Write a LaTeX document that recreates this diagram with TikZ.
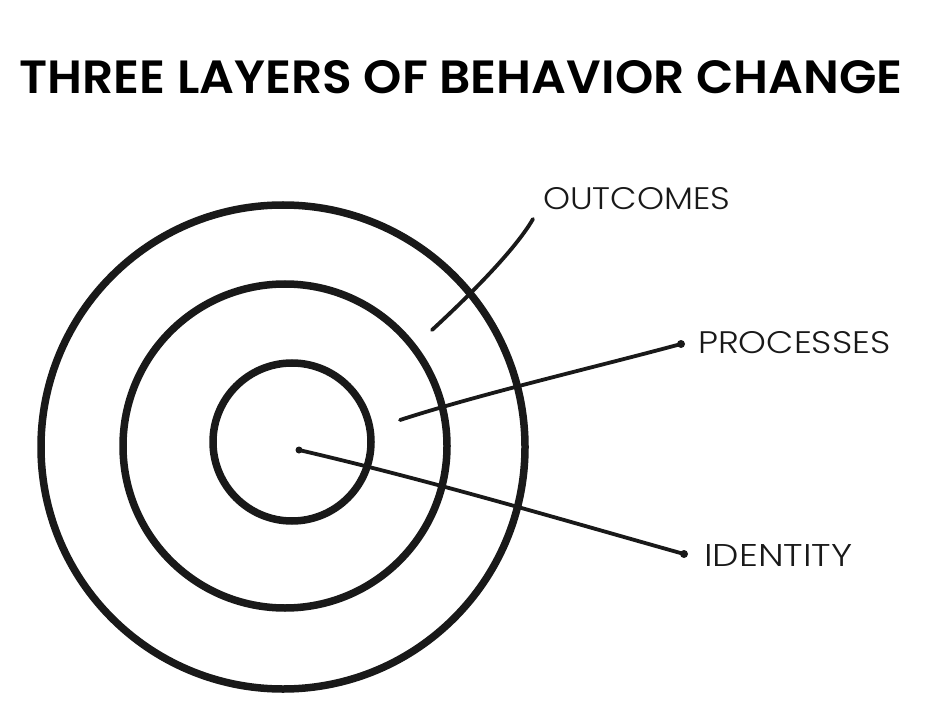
\documentclass[tikz,border=0pt]{standalone}
\usepackage{fontspec}
\setmainfont{Poppins}
\newfontfamily\titlefont{Poppins}[UprightFont=* SemiBold]
\newfontfamily\labelfont{Poppins}[UprightFont=* Light]
\begin{document}
\begin{tikzpicture}[x=1pt,y=-1pt,
  ring/.style={draw=black!90, line width=7.5pt, circle, inner sep=0pt},
  leader/.style={draw=black!90, line width=3.8pt, line cap=round},
  blob/.style={circle, fill=black!90, inner sep=0pt, minimum size=8pt},
  lbl/.style={anchor=west, inner sep=0pt, text=black!90}]
\useasboundingbox[fill=white] (0,0) rectangle (944,708);
\node (title) at (461,77) {\resizebox{883pt}{33pt}{\titlefont THREE LAYERS OF BEHAVIOR CHANGE}};
\node[ring, minimum size=484pt] (outer) at (283,447) {};
\node[ring, minimum size=324pt] (middle) at (285,446) {};
\node[ring, minimum size=158pt] (inner) at (292,442) {};
% leader ends
\coordinate (o1) at (432,330);
\coordinate (o2) at (533,219);
\coordinate (p1) at (400,420);
\node[blob] (p2) at (681,344) {};
\node[blob, minimum size=7pt] (i1) at (299,450) {};
\node[blob] (i2) at (684,554) {};
\draw[leader] (o1) .. controls (470,295) and (515,250) .. (o2);
\draw[leader] (p1) .. controls (480,394) and (600,366) .. (p2.center);
\draw[leader] (i1.center) .. controls (428,480) and (556,518) .. (i2.center);
\node[lbl] (outcomes) at (543,199) {\resizebox{187pt}{22pt}{\labelfont OUTCOMES}};
\node[lbl] (processes) at (698,343) {\resizebox{192pt}{22pt}{\labelfont PROCESSES}};
\node[lbl] (identity) at (704,555) {\resizebox{148pt}{22pt}{\labelfont IDENTITY}};
\end{tikzpicture}
\end{document}
